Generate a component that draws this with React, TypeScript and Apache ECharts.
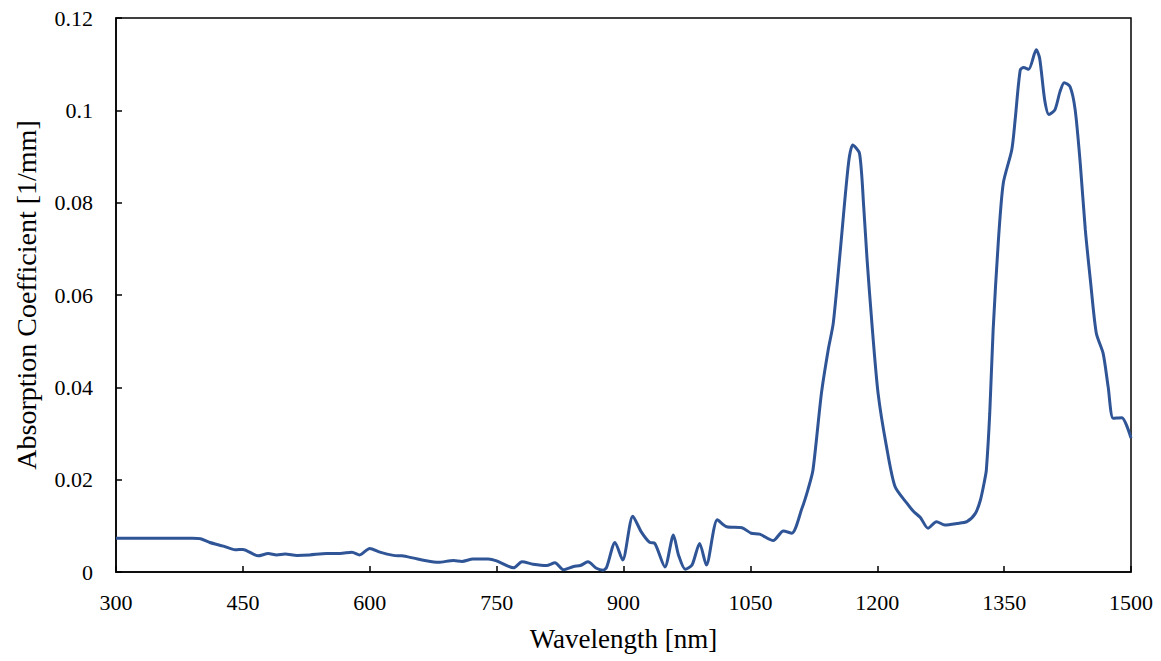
import React, { useEffect, useRef } from "react";
import * as echarts from "echarts";

const wavelengths = [
  300, 350, 390, 400, 411, 427, 441, 450, 468, 480, 490, 500, 514, 529, 549, 565, 579, 588, 600, 612,
  628, 638, 652, 665, 681, 699, 709, 722, 740, 750, 770, 780, 793, 809, 819, 829, 841, 849, 858, 868,
  876, 880, 890, 899, 911, 921, 931, 937, 949, 959, 965, 973, 981, 990, 998, 1011, 1022, 1040, 1051,
  1061, 1077, 1089, 1099, 1111, 1118, 1124, 1134, 1142, 1148, 1156, 1166, 1171, 1179, 1184, 1188,
  1194, 1201, 1211, 1221, 1235, 1243, 1251, 1260, 1270, 1280, 1294, 1306, 1316, 1322, 1327, 1329,
  1333, 1337, 1343, 1349, 1359, 1363, 1369, 1373, 1379, 1388, 1392, 1398, 1403, 1410, 1416, 1421,
  1428, 1434, 1440, 1446, 1452, 1459, 1467, 1473, 1479, 1489, 1500,
];

const absorption = [
  0.0073, 0.0073, 0.0073, 0.0072, 0.0064, 0.0056, 0.0048, 0.0049, 0.0035, 0.004, 0.0037, 0.0039,
  0.0036, 0.0037, 0.004, 0.004, 0.0043, 0.0037, 0.0051, 0.0043, 0.0036, 0.0035, 0.003, 0.0025,
  0.0021, 0.0025, 0.0023, 0.0028, 0.0028, 0.0024, 0.0009, 0.0022, 0.0017, 0.0014, 0.002, 0.0005,
  0.0012, 0.0014, 0.0022, 0.0008, 0.0004, 0.001, 0.0064, 0.0026, 0.0121, 0.0087, 0.0064, 0.0062,
  0.0011, 0.008, 0.0037, 0.0006, 0.0015, 0.0062, 0.0015, 0.0113, 0.0098, 0.0096, 0.0084, 0.0082,
  0.0068, 0.0089, 0.0084, 0.0138, 0.0178, 0.0221, 0.0387, 0.0481, 0.0539, 0.069, 0.0885, 0.0925,
  0.0907, 0.0791, 0.0676, 0.0531, 0.0387, 0.0271, 0.0185, 0.0149, 0.0131, 0.0118, 0.0095, 0.0109,
  0.0102, 0.0105, 0.0109, 0.0127, 0.0156, 0.0199, 0.0221, 0.0344, 0.0524, 0.0712, 0.0842, 0.0914,
  0.0979, 0.1087, 0.1093, 0.1089, 0.1131, 0.1113, 0.1022, 0.0991, 0.1001, 0.104, 0.106, 0.1051,
  0.1001, 0.0885, 0.0741, 0.0632, 0.0517, 0.0474, 0.0401, 0.0333, 0.0334, 0.029,
];

const xAxisName = "Wavelength [nm]";
const yAxisName = "Absorption Coefficient [1/mm]";

export default function App() {
  const ref = useRef<HTMLDivElement>(null);
  useEffect(() => {
    if (!ref.current) return;
    const chart = echarts.init(ref.current, null, { renderer: "svg" });
    const font = "Liberation Serif";
    chart.setOption({
      animation: false,
      backgroundColor: "#ffffff",
      grid: {
        left: 116,
        right: 30,
        top: 18,
        bottom: 89,
        show: true,
        borderColor: "#000",
        borderWidth: 1.5,
      },
      xAxis: {
        type: "value",
        min: 300,
        max: 1500,
        interval: 150,
        name: xAxisName,
        nameLocation: "middle",
        nameGap: 53,
        nameTextStyle: { fontFamily: font, fontSize: 27, color: "#000" },
        axisLine: { show: true, onZero: false, lineStyle: { color: "#000", width: 1.5 } },
        axisTick: { show: true, inside: true, length: 6, lineStyle: { color: "#000", width: 1.5 } },
        axisLabel: {
          fontFamily: font,
          fontSize: 22,
          color: "#000",
          margin: 19,
          formatter: (v: number) => String(v),
        },
        splitLine: { show: false },
      },
      yAxis: {
        type: "value",
        min: 0,
        max: 0.12,
        interval: 0.02,
        name: yAxisName,
        nameLocation: "middle",
        nameGap: 76,
        nameTextStyle: { fontFamily: font, fontSize: 28, color: "#000" },
        axisLine: { show: true, lineStyle: { color: "#000", width: 1.5 } },
        axisTick: { show: true, inside: true, length: 6, lineStyle: { color: "#000", width: 1.5 } },
        axisLabel: {
          fontFamily: font,
          fontSize: 22,
          color: "#000",
          margin: 23,
          formatter: (v: number) => String(parseFloat(v.toFixed(2))),
        },
        splitLine: { show: false },
      },
      series: [
        {
          type: "line",
          data: wavelengths.map((w, i) => [w, absorption[i]]),
          showSymbol: false,
          smooth: 0.25,
          lineStyle: { color: "#2f5597", width: 3 },
          itemStyle: { color: "#2f5597" },
        },
      ],
    });
    return () => chart.dispose();
  }, []);
  return (
    <div
      ref={ref}
      style={{ position: "fixed", left: 0, top: 0, width: 1161, height: 661 }}
    />
  );
}
